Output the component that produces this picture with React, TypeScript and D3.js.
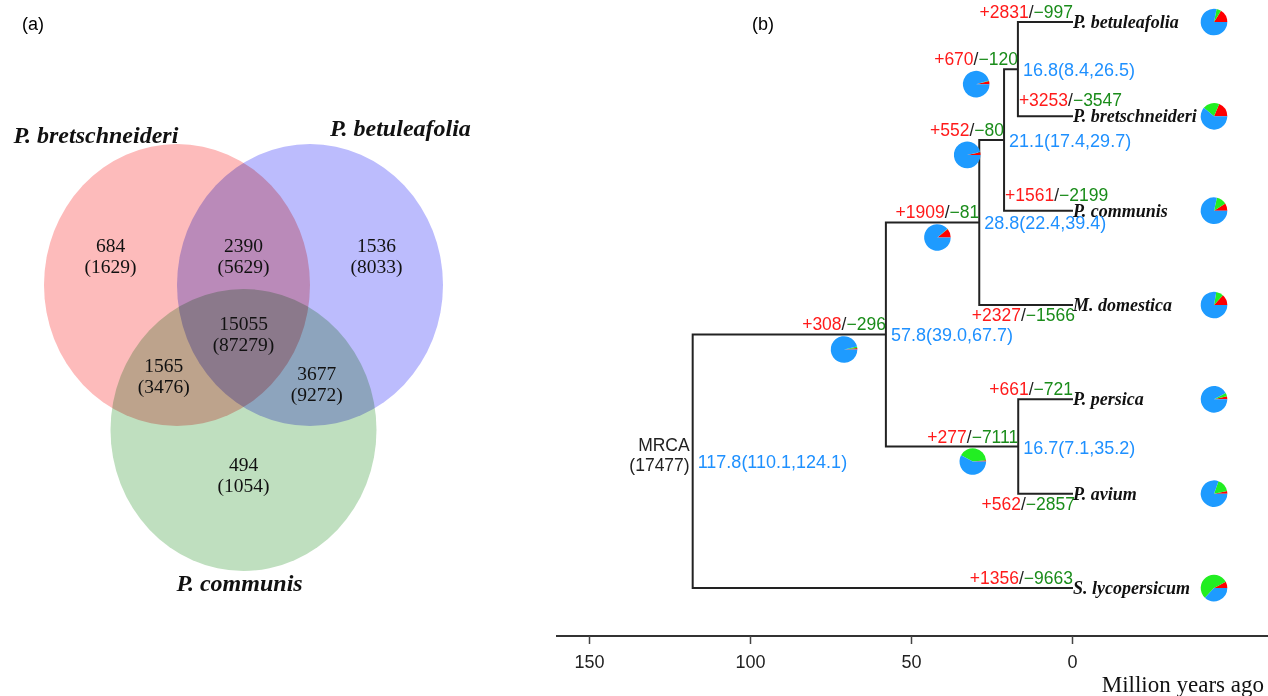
import React, { useRef, useEffect } from "react";
import * as d3 from "d3";

// ---- panel (a): venn ----
const vennSets = ["P. bretschneideri", "P. betuleafolia", "P. communis"];
const regionKeys = ["A", "AB", "B", "ABC", "AC", "BC", "C"];
const regionFamilies = [684, 2390, 1536, 15055, 1565, 3677, 494];
const regionGenes = [1629, 5629, 8033, 87279, 3476, 9272, 1054];

// ---- panel (b): tree ----
const tipNames = [
  "P. betuleafolia",
  "P. bretschneideri",
  "P. communis",
  "M. domestica",
  "P. persica",
  "P. avium",
  "S. lycopersicum",
];
const tipGain = [2831, 3253, 1561, 2327, 661, 562, 1356];
const tipLoss = [997, 3547, 2199, 1566, 721, 2857, 9663];

const nodeIds = ["n1", "n2", "n3", "n4", "n5", "root"];
const nodeChildren = [
  ["P. betuleafolia", "P. bretschneideri"],
  ["n1", "P. communis"],
  ["n2", "M. domestica"],
  ["P. persica", "P. avium"],
  ["n3", "n4"],
  ["n5", "S. lycopersicum"],
];
const nodeAges = [16.8, 21.1, 28.8, 16.7, 57.8, 117.8];
const nodeLow = [8.4, 17.4, 22.4, 7.1, 39.0, 110.1];
const nodeHigh = [26.5, 29.7, 39.4, 35.2, 67.7, 124.1];
const nodeGain = [670, 552, 1909, 277, 308, null];
const nodeLoss = [120, 80, 81, 7111, 296, null];
const mrcaFamilies = 17477;
const axisTicks = [150, 100, 50, 0];

const SANS = "Liberation Sans, Arial, sans-serif";
const SERIF = "Liberation Serif, Times New Roman, serif";

// where the gain/loss text sits on each tip branch
const tipLabelPlace = ["end-above", "start-above", "start-above", "end-below", "end-above", "end-below", "end-above"];

export default function App() {
  const svgRef = useRef<SVGSVGElement>(null);

  useEffect(() => {
    const svg = d3.select(svgRef.current);
    svg.selectAll("*").remove();
    svg.append("rect").attr("width", 1268).attr("height", 696).attr("fill", "#fff");

    // panel labels
    svg.append("text").attr("x", 22).attr("y", 30).text("(a)")
      .style("font-family", SANS).style("font-size", "18px");
    svg.append("text").attr("x", 752).attr("y", 30).text("(b)")
      .style("font-family", SANS).style("font-size", "18px");

    // ---------- venn ----------
    const vx = d3.scaleLinear().domain([-1, 1]).range([243.5 - 133, 243.5 + 133]);
    const vy = d3.scaleLinear().domain([-1, 1]).range([285 - 133, 285 + 133]);
    const circles = [
      { cx: -0.5, cy: 0, color: "#fdbbbb" },
      { cx: 0.5, cy: 0, color: "#bcbcfd" },
      { cx: 0, cy: 1.09, color: "#bfdfbf" },
    ];
    const vg = svg.append("g").style("isolation", "isolate");
    vg.selectAll("ellipse")
      .data(circles)
      .join("ellipse")
      .attr("cx", (d) => vx(d.cx))
      .attr("cy", (d) => vy(d.cy))
      .attr("rx", vx(1) - vx(0))
      .attr("ry", (vy(1) - vy(0)) * 1.06)
      .attr("fill", (d) => d.color)
      .style("mix-blend-mode", "multiply");

    const regionPos: Record<string, [number, number]> = {
      A: [-1.0, -0.17],
      AB: [0, -0.17],
      B: [1.0, -0.17],
      ABC: [0, 0.42],
      AC: [-0.6, 0.73],
      BC: [0.55, 0.79],
      C: [0, 1.48],
    };
    regionKeys.forEach((k, i) => {
      const [u, v] = regionPos[k];
      const t = svg.append("text")
        .attr("text-anchor", "middle")
        .style("font-family", SERIF)
        .style("font-size", "19.5px")
        .attr("fill", "#111");
      t.append("tspan").attr("x", vx(u)).attr("y", vy(v) - 10.5).text(String(regionFamilies[i]));
      t.append("tspan").attr("x", vx(u)).attr("y", vy(v) + 10.5).text(`(${regionGenes[i]})`);
    });

    const setLabelPos: [number, number][] = [
      [-1.11, -1.07],
      [1.18, -1.12],
      [-0.03, 2.3],
    ];
    vennSets.forEach((name, i) => {
      svg.append("text")
        .attr("x", vx(setLabelPos[i][0]))
        .attr("y", vy(setLabelPos[i][1]))
        .attr("text-anchor", "middle")
        .style("font-family", SERIF)
        .style("font-style", "italic")
        .style("font-weight", "bold")
        .style("font-size", "24px")
        .attr("fill", "#111")
        .text(name);
    });

    // ---------- tree ----------
    const xScale = d3.scaleLinear().domain([150, 0]).range([589, 1072]);
    const yScale = d3.scalePoint<string>().domain(tipNames).range([22, 588]);

    const pos: Record<string, { x: number; y: number }> = {};
    tipNames.forEach((n) => (pos[n] = { x: xScale(0), y: yScale(n)! }));
    nodeIds.forEach((id, i) => {
      const kids = nodeChildren[i].map((c) => pos[c]);
      pos[id] = { x: xScale(nodeAges[i]), y: d3.mean(kids, (k) => k.y)! };
    });

    const tg = svg.append("g");
    const branchPath = d3.path();
    nodeIds.forEach((id, i) => {
      const p = pos[id];
      const kids = nodeChildren[i].map((c) => pos[c]);
      branchPath.moveTo(p.x, kids[0].y);
      branchPath.lineTo(p.x, kids[kids.length - 1].y);
      kids.forEach((k) => {
        branchPath.moveTo(p.x, k.y);
        branchPath.lineTo(k.x, k.y);
      });
    });
    tg.append("path")
      .attr("d", branchPath.toString())
      .attr("fill", "none")
      .attr("stroke", "#222")
      .attr("stroke-width", 2)
      .attr("stroke-linecap", "square");

    const parentOf: Record<string, string> = {};
    nodeIds.forEach((id, i) => nodeChildren[i].forEach((c) => (parentOf[c] = id)));

    // R-style pie: starts at 3 o'clock, runs counter-clockwise
    const pieGen = d3.pie<number>().sort(null).startAngle(Math.PI / 2).endAngle(Math.PI / 2 - 2 * Math.PI);
    const arcGen = d3.arc<d3.PieArcDatum<number>>().innerRadius(0).outerRadius(13.3);
    const pieColors = ["#ff0000", "#22ee22", "#1e9bff"];
    const drawPie = (cx: number, cy: number, gain: number, loss: number) => {
      const g = tg.append("g").attr("transform", `translate(${cx},${cy})`);
      g.selectAll("path")
        .data(pieGen([gain, loss, mrcaFamilies - gain - loss]))
        .join("path")
        .attr("d", arcGen)
        .attr("fill", (_, j) => pieColors[j]);
    };

    const gainLoss = (x: number, y: number, anchor: string, gain: number, loss: number) => {
      const t = tg.append("text")
        .attr("x", x)
        .attr("y", y)
        .attr("text-anchor", anchor)
        .style("font-family", SANS)
        .style("font-size", "17.5px");
      t.append("tspan").attr("fill", "#ff1a1a").text(`+${gain}`);
      t.append("tspan").attr("fill", "#222").text("/");
      t.append("tspan").attr("fill", "#1a8c1a").text(`\u2212${loss}`);
      return t;
    };

    // tips
    tipNames.forEach((n, i) => {
      const p = pos[n];
      const place = tipLabelPlace[i];
      if (place === "start-above") gainLoss(pos[parentOf[n]].x + 1, p.y - 10, "start", tipGain[i], tipLoss[i]);
      else if (place === "end-below") gainLoss(p.x + 3, p.y + 16, "end", tipGain[i], tipLoss[i]);
      else gainLoss(p.x + 1, p.y - 4, "end", tipGain[i], tipLoss[i]);

      tg.append("text")
        .attr("x", p.x + 1)
        .attr("y", p.y + 6)
        .style("font-family", SERIF)
        .style("font-style", "italic")
        .style("font-weight", "bold")
        .style("font-size", "18px")
        .attr("fill", "#111")
        .text(n);
      drawPie(1214, p.y, tipGain[i], tipLoss[i]);
    });

    const fmt = d3.format(".1f");
    nodeIds.forEach((id, i) => {
      const p = pos[id];
      tg.append("text")
        .attr("x", p.x + 5)
        .attr("y", p.y + 7)
        .style("font-family", SANS)
        .style("font-size", "18px")
        .attr("fill", "#1e90ff")
        .text(`${fmt(nodeAges[i])}(${fmt(nodeLow[i])},${fmt(nodeHigh[i])})`);
      const g = nodeGain[i];
      const l = nodeLoss[i];
      if (g != null && l != null) {
        const t = gainLoss(p.x, p.y - 4, "end", g, l);
        const bb = (t.node() as SVGTextElement).getBBox();
        drawPie(bb.x + bb.width / 2, p.y + 15, g, l);
      } else {
        const t = tg.append("text")
          .attr("text-anchor", "end")
          .style("font-family", SANS)
          .style("font-size", "17.5px")
          .attr("fill", "#222");
        t.append("tspan").attr("x", p.x - 3).attr("y", p.y - 10).text("MRCA");
        t.append("tspan").attr("x", p.x - 3).attr("y", p.y + 10).text(`(${mrcaFamilies})`);
      }
    });

    // axis
    const axisY = 636;
    svg.append("line")
      .attr("x1", 556).attr("x2", 1268)
      .attr("y1", axisY).attr("y2", axisY)
      .attr("stroke", "#333").attr("stroke-width", 2);
    const ax = svg.append("g")
      .attr("transform", `translate(0,${axisY})`)
      .call(d3.axisBottom(xScale).tickValues(axisTicks).tickSize(8).tickPadding(11).tickFormat(d3.format("d")));
    ax.select(".domain").remove();
    ax.selectAll(".tick line").attr("stroke", "#444").attr("stroke-width", 1.5);
    ax.selectAll(".tick text")
      .style("font-family", SANS)
      .style("font-size", "18px")
      .attr("fill", "#222");

    svg.append("text")
      .attr("x", 1264)
      .attr("y", 692)
      .attr("text-anchor", "end")
      .style("font-family", SERIF)
      .style("font-size", "23px")
      .attr("fill", "#111")
      .text("Million years ago");
  }, []);

  return (
    <svg
      ref={svgRef}
      width={1268}
      height={696}
      style={{ position: "absolute", left: 0, top: 0, display: "block" }}
    />
  );
}
